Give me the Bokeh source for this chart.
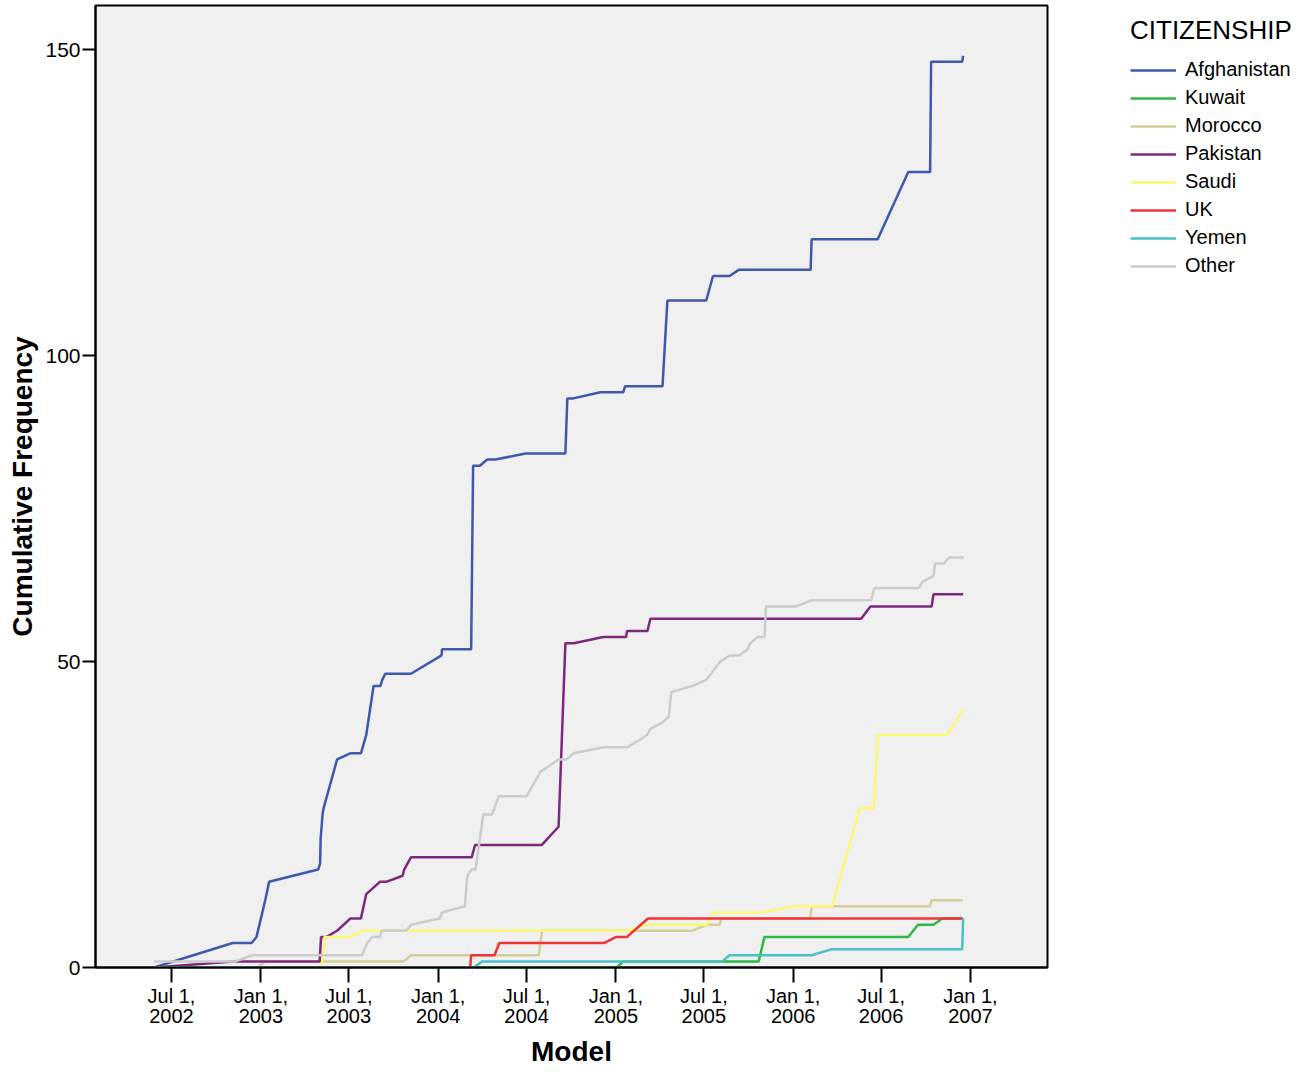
import pandas as pd
from bokeh.plotting import figure
from bokeh.layouts import row
from bokeh.models import Range1d, FixedTicker, Legend, LegendItem
from bokeh.embed import file_html
from bokeh.resources import INLINE

countries = ["Afghanistan", "Kuwait", "Morocco", "Pakistan", "Saudi", "UK", "Yemen", "Other"]
colors = ["#3e58ac", "#2eb848", "#d3ce97", "#7c287d", "#fbf873", "#ef3338", "#48c2c5", "#cccccc"]

afghanistan_dates = ["2002-05-26", "2002-11-04", "2002-12-13", "2002-12-23", "2003-01-10", "2003-01-18",
                     "2003-04-29", "2003-05-03", "2003-05-04", "2003-05-08", "2003-05-10", "2003-06-07",
                     "2003-07-04", "2003-07-26", "2003-08-06", "2003-08-21", "2003-09-04", "2003-09-08",
                     "2003-09-14", "2003-11-06", "2004-01-08", "2004-01-09", "2004-03-09", "2004-03-13",
                     "2004-03-27", "2004-04-11", "2004-04-28", "2004-06-29", "2004-09-19", "2004-09-23",
                     "2004-10-05", "2004-11-30", "2005-01-16", "2005-01-20", "2005-04-07", "2005-04-17",
                     "2005-07-06", "2005-07-20", "2005-08-23", "2005-09-11", "2006-02-06", "2006-02-08",
                     "2006-06-24", "2006-08-26", "2006-10-10", "2006-10-12", "2006-12-15", "2006-12-17"]
afghanistan_counts = [0, 4, 4, 5, 11, 14, 16, 17, 21, 25, 26, 34, 35, 35, 38, 46, 46, 47, 48, 48, 51, 52, 52, 82,
                      82, 83, 83, 84, 84, 93, 93, 94, 94, 95, 95, 109, 109, 113, 113, 114, 114, 119, 119, 130,
                      130, 148, 148, 149]

kuwait_dates = ["2002-05-26", "2005-01-03", "2005-01-16", "2005-10-22", "2005-11-03", "2006-08-26",
                "2006-09-15", "2006-10-17", "2006-11-04", "2006-12-16"]
kuwait_counts = [0, 0, 1, 1, 5, 5, 7, 7, 8, 8]

morocco_dates = ["2002-05-26", "2002-12-24", "2003-01-10", "2003-10-22", "2003-11-06", "2004-07-26",
                 "2004-08-02", "2005-06-07", "2005-07-08", "2005-08-03", "2005-08-06", "2006-02-05",
                 "2006-02-08", "2006-10-10", "2006-10-13", "2006-12-16"]
morocco_counts = [0, 0, 1, 1, 2, 2, 6, 6, 7, 7, 8, 8, 10, 10, 11, 11]

pakistan_dates = ["2002-05-26", "2002-11-06", "2003-05-02", "2003-05-05", "2003-05-16", "2003-06-07",
                  "2003-07-04", "2003-07-26", "2003-08-06", "2003-09-03", "2003-09-16", "2003-10-20",
                  "2003-10-23", "2003-11-06", "2004-03-10", "2004-03-17", "2004-08-01", "2004-09-05",
                  "2004-09-19", "2004-10-06", "2004-12-06", "2005-01-22", "2005-01-24", "2005-03-07",
                  "2005-03-13", "2006-05-21", "2006-06-09", "2006-10-13", "2006-10-17", "2006-12-17"]
pakistan_counts = [0, 1, 1, 5, 5, 6, 8, 8, 12, 14, 14, 15, 16, 18, 18, 20, 20, 23, 53, 53, 54, 54, 55, 55,
                   57, 57, 59, 59, 61, 61]

saudi_dates = ["2002-05-26", "2003-05-07", "2003-05-12", "2003-07-04", "2003-07-28", "2005-01-24",
               "2005-03-06", "2005-07-08", "2005-07-19", "2005-10-26", "2006-01-06", "2006-03-22",
               "2006-05-18", "2006-06-16", "2006-06-24", "2006-11-14", "2006-12-16"]
saudi_counts = [0, 0, 5, 5, 6, 6, 7, 7, 9, 9, 10, 10, 26, 26, 38, 38, 42]

uk_dates = ["2002-05-26", "2004-03-07", "2004-03-09", "2004-04-26", "2004-05-06", "2004-12-07",
            "2005-01-02", "2005-01-24", "2005-03-08", "2006-12-16"]
uk_counts = [0, 0, 2, 2, 4, 4, 5, 5, 8, 8]

yemen_dates = ["2002-05-26", "2004-03-14", "2004-04-01", "2005-08-08", "2005-08-23", "2006-02-08",
               "2006-03-22", "2006-12-15", "2006-12-17"]
yemen_counts = [0, 0, 1, 1, 2, 2, 3, 3, 8]

other_dates = ["2002-05-26", "2002-11-10", "2002-12-14", "2003-07-28", "2003-08-08", "2003-08-18",
               "2003-09-04", "2003-09-06", "2003-10-26", "2003-11-07", "2004-01-04", "2004-01-09",
               "2004-02-25", "2004-03-01", "2004-03-10", "2004-03-18", "2004-04-03", "2004-04-21",
               "2004-05-05", "2004-07-01", "2004-07-30", "2004-09-05", "2004-09-21", "2004-10-06",
               "2004-12-06", "2005-01-25", "2005-03-06", "2005-03-13", "2005-04-06", "2005-04-20",
               "2005-04-25", "2005-06-07", "2005-07-06", "2005-07-25", "2005-08-04", "2005-08-24",
               "2005-09-12", "2005-09-29", "2005-10-05", "2005-10-20", "2005-11-03", "2005-11-06",
               "2006-01-07", "2006-02-08", "2006-06-11", "2006-06-17", "2006-09-17", "2006-09-24",
               "2006-10-17", "2006-10-20", "2006-11-07", "2006-11-18", "2006-12-18"]
other_counts = [1, 1, 2, 2, 4, 5, 5, 6, 6, 7, 8, 9, 10, 15, 16, 16, 25, 25, 28, 28, 32, 34, 34, 35, 36, 36,
                38, 39, 40, 41, 45, 46, 47, 49, 50, 51, 51, 52, 53, 54, 54, 59, 59, 60, 60, 62, 62, 63, 64,
                66, 66, 67, 67]

tick_dates = ["2002-07-01", "2003-01-01", "2003-07-01", "2004-01-01", "2004-07-01",
              "2005-01-01", "2005-07-01", "2006-01-01", "2006-07-01", "2007-01-01"]
tick_labels = ["Jul 1,\n2002", "Jan 1,\n2003", "Jul 1,\n2003", "Jan 1,\n2004", "Jul 1,\n2004",
               "Jan 1,\n2005", "Jul 1,\n2005", "Jan 1,\n2006", "Jul 1,\n2006", "Jan 1,\n2007"]
y_ticks = [0, 50, 100, 150]

series = [
    (afghanistan_dates, afghanistan_counts),
    (kuwait_dates, kuwait_counts),
    (morocco_dates, morocco_counts),
    (pakistan_dates, pakistan_counts),
    (saudi_dates, saudi_counts),
    (uk_dates, uk_counts),
    (yemen_dates, yemen_counts),
    (other_dates, other_counts),
]


def ms(d):
    return int(pd.Timestamp(d).value // 10**6)


FONT = "Liberation Sans"
LINE_W = 2.5
TOP, BOTTOM, HEIGHT = 5, 103, 1070

p = figure(width=1050, height=HEIGHT, output_backend="svg", toolbar_location=None,
           x_axis_type="datetime",
           x_range=Range1d(ms("2002-01-25 12:00"), ms("2007-06-08 16:00")),
           y_range=Range1d(0, 157.2),
           min_border_left=95, min_border_right=3, min_border_top=TOP, min_border_bottom=BOTTOM)

p.background_fill_color = "#f0f0f0"
p.border_fill_color = "white"
p.outline_line_color = "black"
p.outline_line_width = 2
p.grid.visible = False

# X axis
xa = p.xaxis[0]
xa.ticker = FixedTicker(ticks=[ms(d) for d in tick_dates])
xa.major_label_overrides = {ms(d): lab for d, lab in zip(tick_dates, tick_labels)}
xa.major_tick_out = 15
xa.major_tick_in = 0
xa.minor_tick_out = 0
xa.minor_tick_in = 0
xa.major_tick_line_width = 2
xa.major_tick_line_color = "black"
xa.axis_line_width = 2
xa.axis_line_color = "black"
xa.major_label_text_font = FONT
xa.major_label_text_font_size = "20px"
xa.major_label_text_color = "black"
xa.major_label_text_line_height = 0.95
xa.major_label_standoff = 2
xa.axis_label = "Model"
xa.axis_label_text_font = FONT
xa.axis_label_text_font_size = "28px"
xa.axis_label_text_font_style = "bold"
xa.axis_label_text_color = "black"
xa.axis_label_standoff = 6

# Y axis
ya = p.yaxis[0]
ya.ticker = FixedTicker(ticks=y_ticks)
ya.major_tick_out = 13
ya.major_tick_in = 0
ya.minor_tick_out = 0
ya.minor_tick_in = 0
ya.major_tick_line_width = 2
ya.major_tick_line_color = "black"
ya.axis_line_width = 2
ya.axis_line_color = "black"
ya.major_label_text_font = FONT
ya.major_label_text_font_size = "21px"
ya.major_label_text_color = "black"
ya.major_label_standoff = 2
ya.axis_label = "Cumulative Frequency"
ya.axis_label_text_font = FONT
ya.axis_label_text_font_size = "28px"
ya.axis_label_text_font_style = "bold"
ya.axis_label_text_color = "black"
ya.axis_label_standoff = 4

for color, (dts, cnts) in zip(colors, series):
    p.line(x=pd.to_datetime(dts), y=cnts, line_color=color, line_width=LINE_W)

# Legend panel (separate plot to the right of the chart)
pl = figure(width=255, height=HEIGHT, output_backend="svg", toolbar_location=None,
            x_axis_location=None, y_axis_location=None,
            x_range=Range1d(0, 1), y_range=Range1d(0, 1),
            min_border_left=70, min_border_right=0, min_border_top=TOP, min_border_bottom=BOTTOM)
pl.outline_line_color = None
pl.background_fill_color = "white"
pl.border_fill_color = "white"
pl.grid.visible = False

nan = float("nan")
items = []
for name, color in zip(countries, colors):
    # invisible proxy renderer (one NaN point) so the legend can draw its swatch
    r = pl.line(x=[nan], y=[nan], line_color=color, line_width=LINE_W)
    items.append(LegendItem(label=name, renderers=[r]))

legend = Legend(items=items, location="top_left", title="CITIZENSHIP",
                title_text_font=FONT, title_text_font_size="26px", title_text_font_style="normal",
                title_text_color="black", title_standoff=12,
                label_text_font=FONT, label_text_font_size="20px", label_text_color="black",
                glyph_width=46, glyph_height=20, label_height=20, spacing=5, label_standoff=9,
                padding=0, margin=10, border_line_color=None, background_fill_alpha=0)
pl.add_layout(legend)

layout = row(p, pl)
open("out.html", "w").write(file_html(layout, INLINE))
